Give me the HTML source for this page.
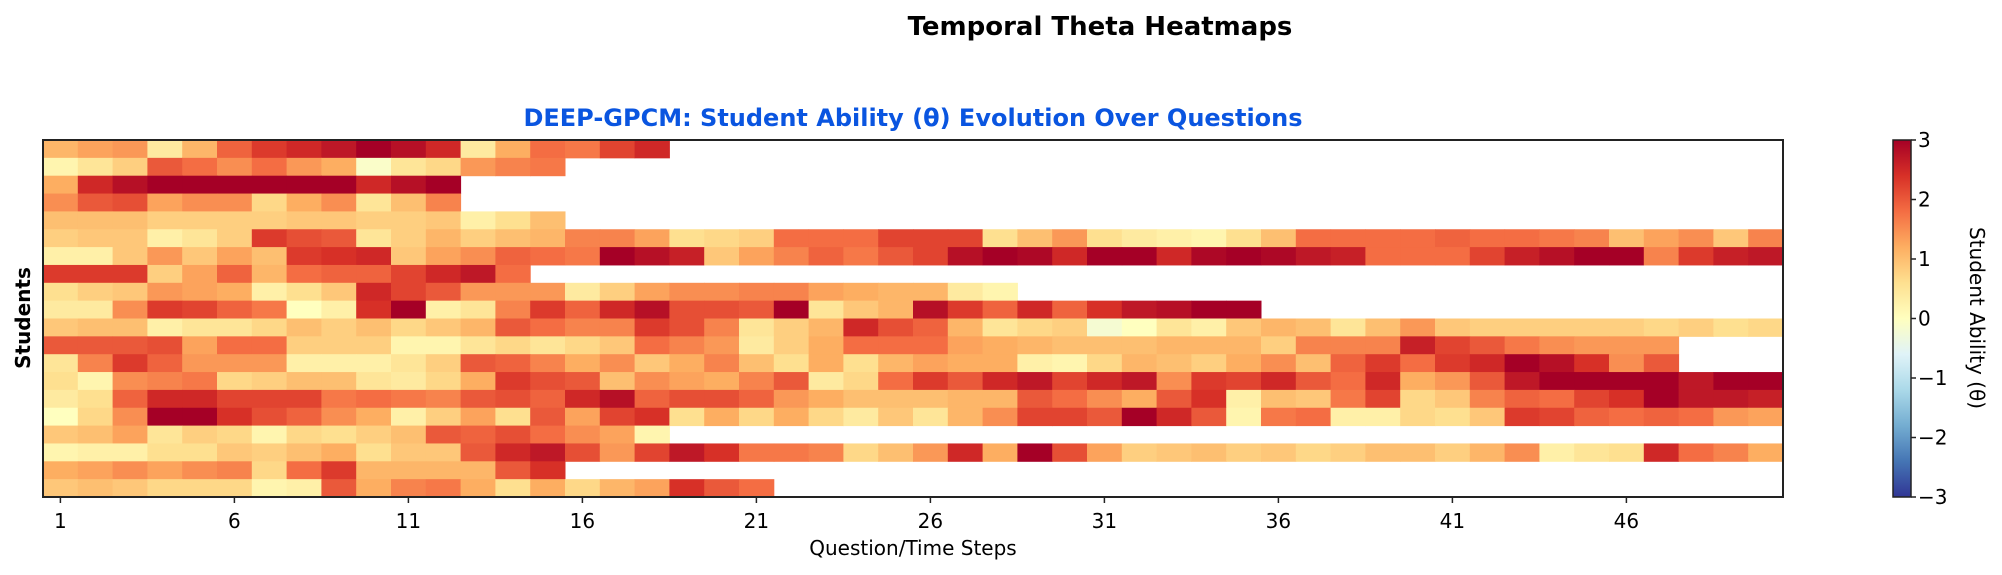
<!DOCTYPE html>
<html><head><meta charset="utf-8"><style>body{margin:0;background:#fff}svg{display:block;font-family:"DejaVu Sans","Liberation Sans",sans-serif}</style></head>
<body>
<svg id="chart" width="2002" height="575" viewBox="0 0 2002 575">
<defs><linearGradient id="cb" x1="0" y1="1" x2="0" y2="0">
<stop offset="0" stop-color="#313695"/><stop offset="0.1" stop-color="#4575b4"/><stop offset="0.2" stop-color="#74add1"/><stop offset="0.3" stop-color="#abd9e9"/><stop offset="0.4" stop-color="#e0f3f8"/><stop offset="0.5" stop-color="#ffffbf"/><stop offset="0.6" stop-color="#fee090"/><stop offset="0.7" stop-color="#fdae61"/><stop offset="0.8" stop-color="#f46d43"/><stop offset="0.9" stop-color="#d73027"/><stop offset="1" stop-color="#a50026"/></linearGradient></defs>
<text x="1100" y="35" text-anchor="middle" font-size="26" font-weight="bold">Temporal Theta Heatmaps</text>
<text x="913" y="126" text-anchor="middle" font-size="24" font-weight="bold" fill="#0a55e0">DEEP-GPCM: Student Ability (θ) Evolution Over Questions</text>
<g id="cells"></g>
<rect x="43" y="140" width="1740" height="357" fill="none" stroke="#222" stroke-width="2"/>
<g id="xticks"></g>
<text x="913" y="555" text-anchor="middle" font-size="20">Question/Time Steps</text>
<text transform="translate(30,318) rotate(-90)" text-anchor="middle" font-size="20" font-weight="bold">Students</text>
<rect x="1893" y="140" width="18" height="357" fill="url(#cb)" stroke="#222" stroke-width="1.5"/>
<g id="cbticks"></g>
<text transform="translate(1970,318) rotate(90)" text-anchor="middle" font-size="20">Student Ability (θ)</text>
</svg>
<script>
const r0=[1.1,1.3,1.4,0.4,1.1,1.9,2.3,2.5,2.7,3.0,2.8,2.5,0.4,1.2,1.8,1.7,2.2,2.5];
const r1=[0.2,0.5,0.8,2.0,1.8,1.5,1.8,1.4,1.2,-0.1,0.5,0.7,1.4,1.6,1.7];
const r2=[1.2,2.5,2.8,3,3,3,3,3,3,2.5,2.8,3];
const r3=[1.5,2.0,2.1,1.3,1.5,1.5,0.7,1.2,1.5,0.5,1.0,1.6];
const r4=[1.0,1.0,1.0,0.8,0.8,0.8,0.8,0.9,0.9,0.8,0.8,0.9,0.3,0.6,1.0];
const r5=[0.8,0.9,0.9,0.3,0.5,0.8,2.3,2.1,2.0,0.5,0.8,1.1,0.8,1.0,1.1,1.6,1.6,1.3,0.6,0.7,0.8,1.8,1.8,1.8,2.2,2.2,2.2,0.6,1.0,1.4,0.6,0.4,0.3,0.2,0.6,1.0,1.8,1.8,1.8,1.8,1.9,1.8,1.8,1.7,1.6,1.0,1.3,1.5,0.9,1.6];
const r6=[0.3,0.3,0.9,1.4,0.9,1.3,1.0,2.3,2.4,2.5,0.9,1.3,1.5,1.9,1.8,1.7,3.0,2.8,2.6,0.9,1.3,1.6,1.9,1.7,2.0,2.2,2.8,3.0,2.9,2.5,3.0,3.0,2.5,2.9,3.0,2.9,2.7,2.6,1.8,1.8,1.8,2.2,2.6,2.8,3.0,3.0,1.6,2.3,2.6,2.7];
const r7=[2.3,2.3,2.3,0.8,1.3,1.9,1.1,1.8,1.9,1.9,2.2,2.5,2.7,1.8];
const r8=[0.6,0.8,0.9,1.4,1.3,1.2,0.3,0.6,0.9,2.5,2.2,2.0,1.4,1.4,1.4,0.4,0.8,1.3,1.5,1.5,1.6,1.6,1.3,1.2,1.1,1.1,0.4,0.2];
const r9=[0.4,0.4,1.5,2.3,2.2,1.9,1.7,0.0,0.3,2.4,3.0,0.3,0.5,1.6,2.3,1.9,2.5,2.8,2.1,2.1,2.0,3.0,0.5,0.9,1.1,2.8,2.3,1.9,2.5,1.9,2.4,2.7,2.8,3.0,3.0];
const r10=[0.9,1.0,1.0,0.3,0.5,0.5,0.7,1.0,0.8,1.0,0.7,0.9,1.1,2.0,1.8,1.6,1.6,2.3,2.1,1.6,0.5,0.8,1.1,2.5,2.1,1.9,1.1,0.5,0.7,0.8,-0.2,0.0,0.5,0.3,0.9,1.1,1.0,0.5,1.0,1.4,0.9,0.8,0.8,0.8,0.8,0.8,0.7,0.8,0.6,0.7];
const r11=[2.0,2.0,2.0,2.1,1.3,1.8,1.8,0.8,0.8,0.8,0.2,0.2,0.5,0.7,0.5,0.7,0.9,1.8,1.6,1.4,0.4,0.8,1.2,1.8,1.8,1.8,1.3,1.2,1.1,1.0,1.0,1.0,1.1,1.1,1.1,0.8,1.6,1.6,1.6,2.6,2.2,2.0,1.7,1.5,1.4,1.4,1.4];
const r12=[0.5,1.6,2.3,1.9,1.4,1.4,1.4,0.3,0.3,0.3,0.5,0.8,2.0,1.9,1.6,1.2,1.5,0.9,1.2,1.6,1.0,0.6,1.2,0.6,1.1,1.3,1.2,1.2,0.3,0.2,0.7,1.1,1.0,0.8,1.2,1.5,1.0,1.9,2.3,1.8,2.3,2.5,3.0,2.8,2.4,1.5,2.0];
const r13=[0.6,0.2,1.5,1.6,1.7,0.7,0.8,1.0,1.0,0.5,0.4,0.7,1.2,2.3,2.1,2.0,1.0,1.5,1.3,1.2,1.6,2.0,0.4,0.7,1.8,2.3,2.0,2.5,2.7,2.2,2.5,2.7,1.5,2.3,2.2,2.5,2.0,1.8,2.5,1.2,1.4,2.0,2.7,3.0,3.0,3.0,3.0,2.7,3.0,3.0];
const r14=[0.4,0.6,1.9,2.5,2.5,2.2,2.2,2.2,1.7,1.8,1.7,1.6,2.0,2.1,1.9,2.5,2.8,1.9,2.1,2.1,1.9,1.4,1.2,1.0,1.0,1.0,1.1,1.1,2.0,1.8,1.5,1.2,2.0,2.4,0.3,1.0,0.9,1.7,2.2,0.7,0.9,1.6,1.9,1.8,2.2,2.4,3.0,2.7,2.7,2.6];
const r15=[0.0,0.7,1.5,3.0,3.0,2.4,2.1,1.9,1.5,1.2,0.3,0.8,1.3,0.6,2.0,1.3,2.2,2.4,0.6,1.2,0.7,1.2,0.7,0.4,0.9,0.5,1.1,1.5,2.2,2.2,2.0,3.0,2.5,2.0,0.2,1.7,1.8,0.3,0.3,0.7,0.6,0.9,2.3,2.2,1.9,1.8,1.9,1.8,1.4,1.3];
const r16=[0.9,1.0,1.3,0.5,0.8,0.7,0.2,0.7,0.6,0.8,1.0,2.0,1.9,2.1,1.8,1.5,1.3,0.2];
const r17=[0.2,0.3,0.3,0.6,0.6,0.9,0.8,1.0,1.2,0.6,0.9,0.9,2.0,2.5,2.7,2.1,1.4,2.2,2.7,2.4,1.7,1.7,1.6,0.7,1.0,1.4,2.5,1.2,3.0,2.1,1.3,0.8,0.9,1.0,0.8,0.9,0.7,0.8,1.0,1.0,0.8,1.1,1.5,0.3,0.5,0.6,2.5,1.8,1.6,1.2];
const r18=[1.2,1.3,1.5,1.3,1.5,1.6,0.7,1.8,2.3,1.1,1.1,1.1,1.1,2.0,2.4];
const r19=[0.9,1.0,0.9,0.7,0.7,0.7,0.2,0.3,2.0,1.2,1.6,1.7,1.2,0.6,1.2,0.7,1.1,1.3,2.4,2.0,1.8];
const rows=[r0,r1,r2,r3,r4,r5,r6,r7,r8,r9,r10,r11,r12,r13,r14,r15,r16,r17,r18,r19];
const xTicks=[1,6,11,16,21,26,31,36,41,46];
const cbTicks=[-3,-2,-1,0,1,2,3];
const NS='http://www.w3.org/2000/svg';
const L=43,T=140,W=1740,H=357,nCols=50;
const cw=W/nCols,rh=H/rows.length;
const xPos=c=>L+c*cw, yPos=r=>T+r*rh;
const stops=['#313695','#4575b4','#74add1','#abd9e9','#e0f3f8','#ffffbf','#fee090','#fdae61','#f46d43','#d73027','#a50026'].map(h=>[1,3,5].map(i=>parseInt(h.substr(i,2),16)));
function cmap(v){let t=Math.max(0,Math.min(1,(v+3)/6))*10;let i=Math.min(9,Math.floor(t)),f=t-i;const a=stops[i],b=stops[i+1];return 'rgb('+a.map((x,k)=>Math.round(x+(b[k]-x)*f)).join(',')+')';}
const g=document.getElementById('cells');
rows.forEach((row,r)=>row.forEach((v,c)=>{const e=document.createElementNS(NS,'rect');
e.setAttribute('x',xPos(c));e.setAttribute('y',yPos(r));e.setAttribute('width',cw+0.5);e.setAttribute('height',rh+0.5);e.setAttribute('fill',cmap(v));


g.appendChild(e);}));
const xg=document.getElementById('xticks');
xTicks.forEach(t=>{const x=xPos(t-1)+cw/2;const l=document.createElementNS(NS,'line');l.setAttribute('x1',x);l.setAttribute('x2',x);l.setAttribute('y1',497);l.setAttribute('y2',503);l.setAttribute('stroke','#222');l.setAttribute('stroke-width','1.5');


xg.appendChild(l);const s=document.createElementNS(NS,'text');s.setAttribute('x',x);s.setAttribute('y',528);s.setAttribute('text-anchor','middle');s.setAttribute('font-size','20');s.textContent=t;


xg.appendChild(s);});
const cg=document.getElementById('cbticks');
cbTicks.forEach(t=>{const y=T+H-(t+3)/6*H;const l=document.createElementNS(NS,'line');l.setAttribute('x1',1911);l.setAttribute('x2',1916);l.setAttribute('y1',y);l.setAttribute('y2',y);l.setAttribute('stroke','#222');l.setAttribute('stroke-width','1.5');


cg.appendChild(l);const s=document.createElementNS(NS,'text');s.setAttribute('x',1918);s.setAttribute('y',y+7);s.setAttribute('font-size','20');s.textContent=(t<0?'\u2212'+(-t):''+t);


cg.appendChild(s);});
</script>
</body></html>
